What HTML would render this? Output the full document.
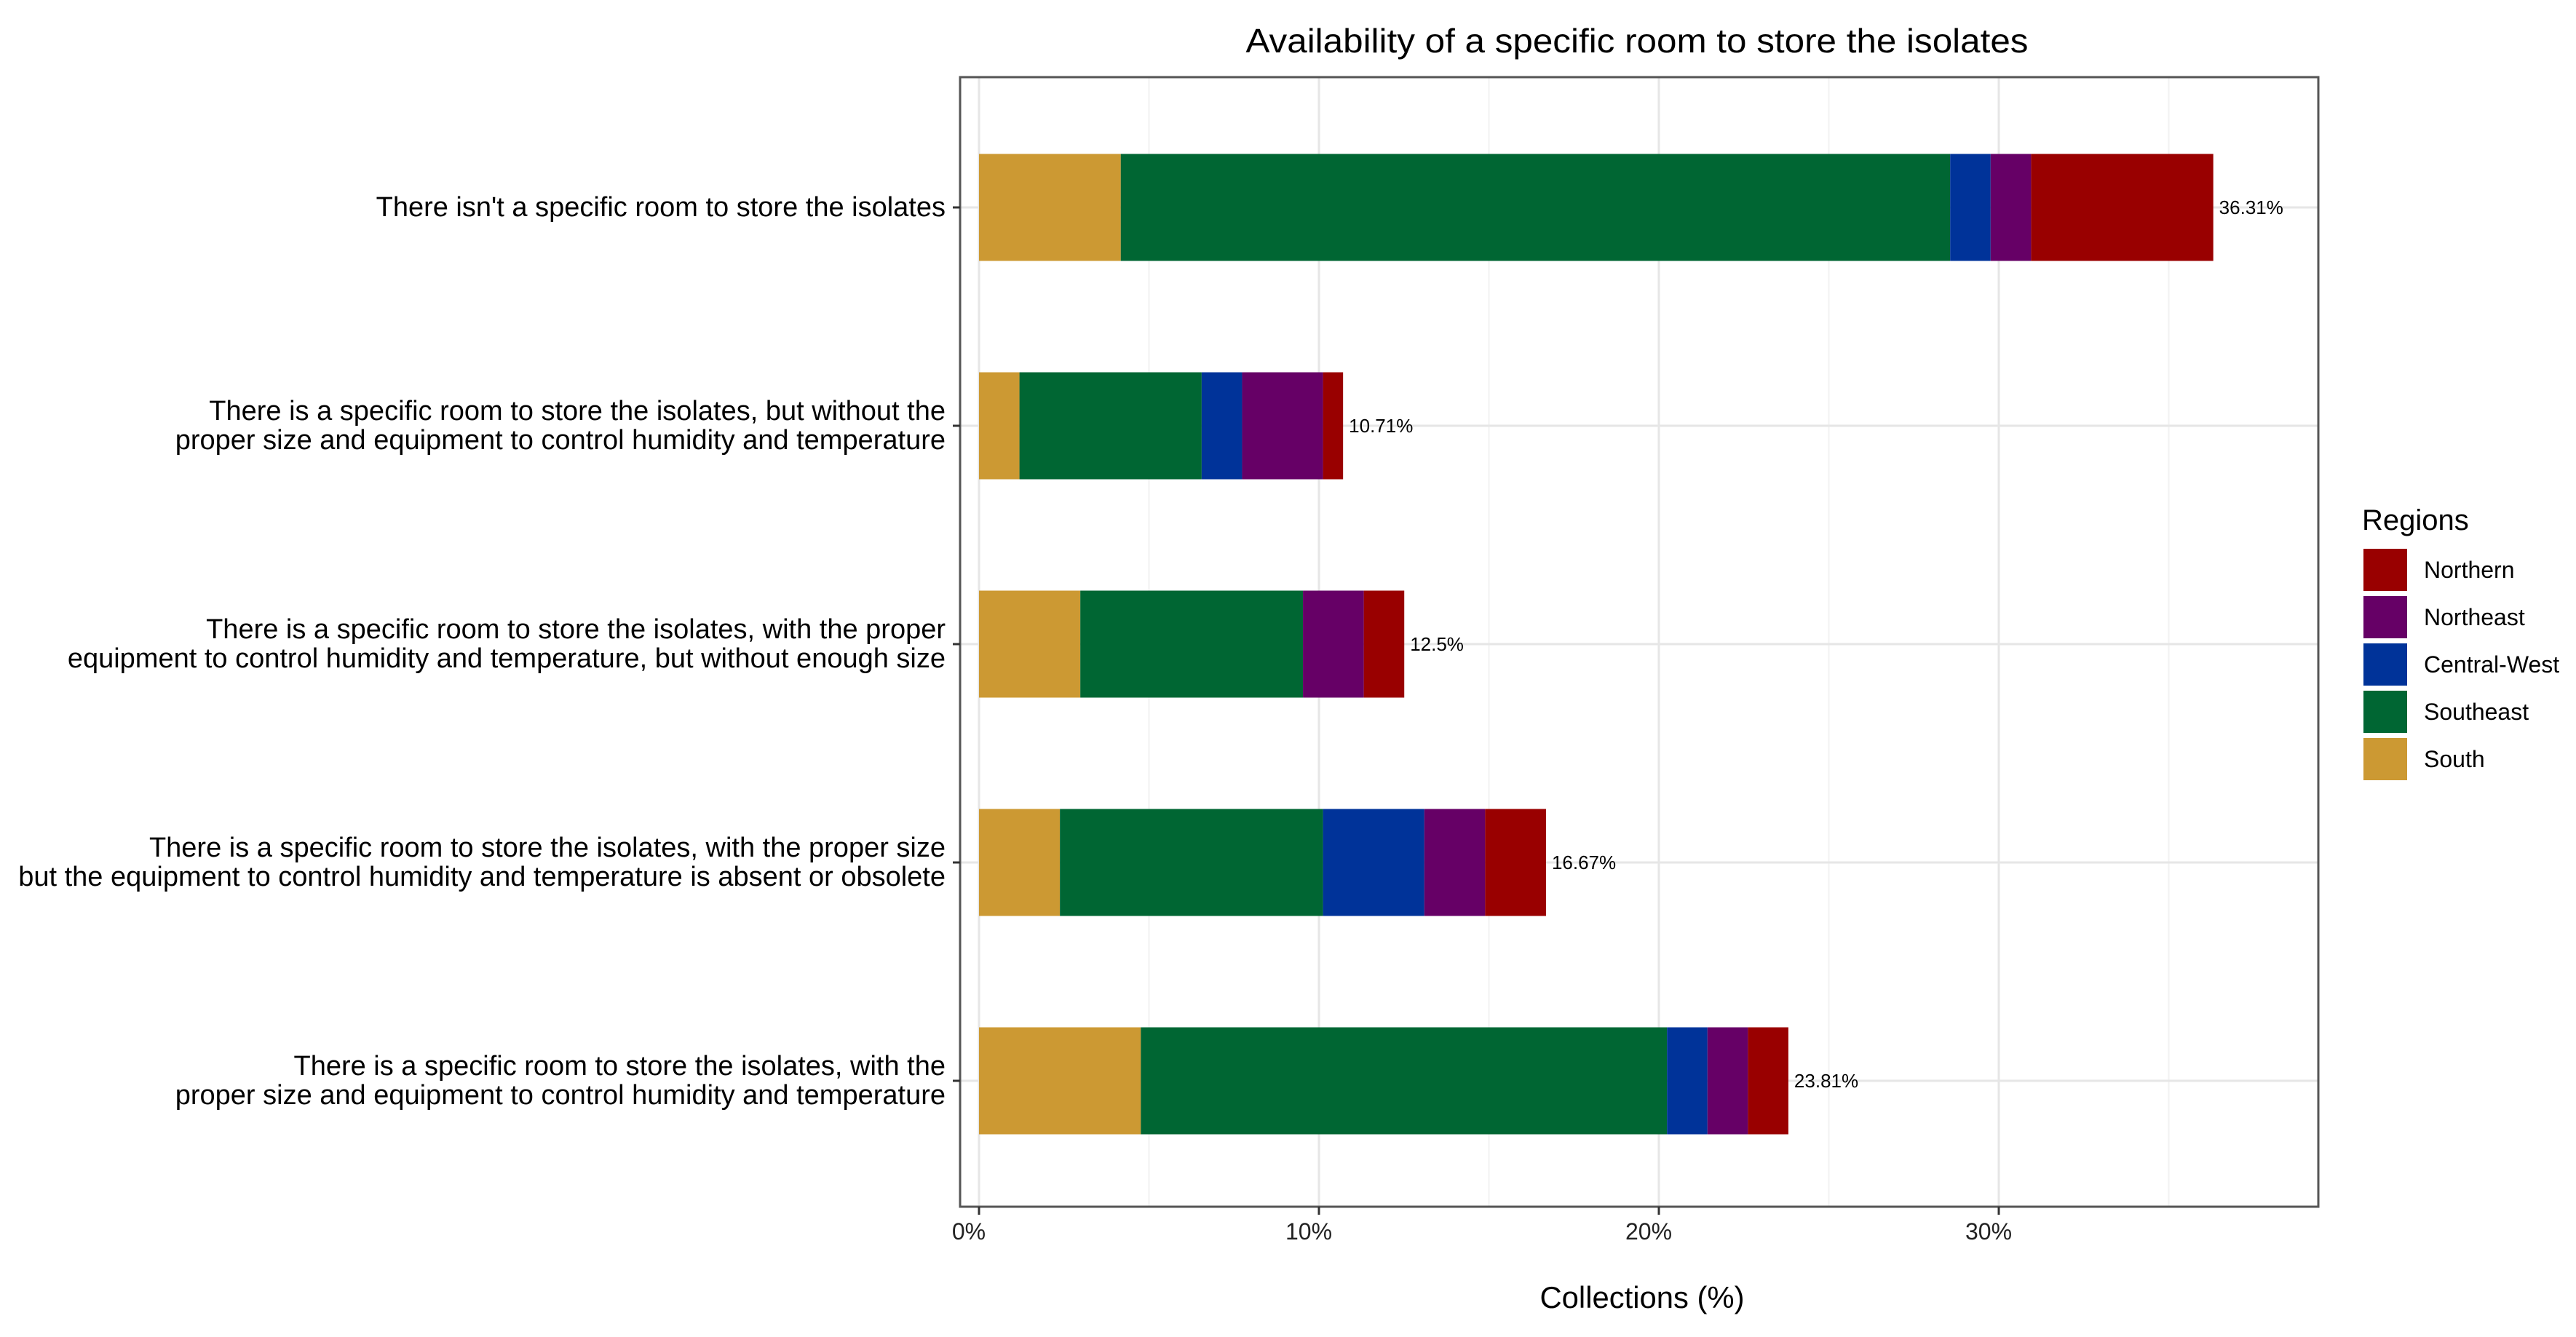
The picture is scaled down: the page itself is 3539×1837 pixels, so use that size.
<!DOCTYPE html>
<html><head><meta charset="utf-8"><style>
html,body{margin:0;padding:0;background:#fff;}
svg{display:block;font-family:"Liberation Sans",Arial,sans-serif;}
</style></head><body>
<svg id="chart" width="3539" height="1837" viewBox="0 0 3539 1837" xmlns="http://www.w3.org/2000/svg">
<rect width="3539" height="1837" fill="#fff"/>
<text x="2249" y="72" font-size="46" text-anchor="middle" textLength="1075" lengthAdjust="spacingAndGlyphs" fill="#000">Availability of a specific room to store the isolates</text>
<g id="grid"></g>
<g id="bars"></g>
<rect x="1319" y="106" width="1866" height="1552" fill="none" stroke="#555" stroke-width="3"/>
<g id="axes"></g>
<text x="2256" y="1797" font-size="42" text-anchor="middle" textLength="281" lengthAdjust="spacingAndGlyphs" fill="#000">Collections (%)</text>
<g id="legend">
<text x="3245" y="728" font-size="40" fill="#000">Regions</text>
</g>
</svg>
<script>
const categories = [
 ["There isn't a specific room to store the isolates"],
 ["There is a specific room to store the isolates, but without the","proper size and equipment to control humidity and temperature"],
 ["There is a specific room to store the isolates, with the proper","equipment to control humidity and temperature, but without enough size"],
 ["There is a specific room to store the isolates, with the proper size","but the equipment to control humidity and temperature is absent or obsolete"],
 ["There is a specific room to store the isolates, with the","proper size and equipment to control humidity and temperature"]
];
const regions = ["South","Southeast","Central-West","Northeast","Northern"];
const south = [4.17, 1.19, 2.98, 2.38, 4.76];
const southeast = [24.40, 5.36, 6.55, 7.74, 15.48];
const centralWest = [1.19, 1.19, 0, 2.98, 1.19];
const northeast = [1.19, 2.38, 1.79, 1.79, 1.19];
const northern = [5.36, 0.59, 1.19, 1.79, 1.19];
const totalLabels = ["36.31%","10.71%","12.5%","16.67%","23.81%"];
const xTicks = [0,10,20,30];
const xTickLabels = ["0%","10%","20%","30%"];
const xMinor = [5,15,25,35];

const series=[south,southeast,centralWest,northeast,northern];
const colors=["#CC9933","#006633","#003399","#660066","#990000"];
const NS="http://www.w3.org/2000/svg";
const x0=1345, pxPer=46.7;
const xs=v=>x0+v*pxPer;
const yc=i=>285+i*300;
const barH=147;
function mk(tag,attrs,parent,text){const e=document.createElementNS(NS,tag);for(const k in attrs)e.setAttribute(k,attrs[k]);if(text!==undefined)e.textContent=text;parent.appendChild(e);return e;}
const grid=document.getElementById('grid'),bars=document.getElementById('bars'),axes=document.getElementById('axes'),legend=document.getElementById('legend');
xMinor.forEach(t=>{const l=mk('line',{x1:xs(t),x2:xs(t),y1:106,y2:1658,stroke:'#f2f2f2','stroke-width':2},grid);

});
xTicks.forEach(t=>{const l=mk('line',{x1:xs(t),x2:xs(t),y1:106,y2:1658,stroke:'#e6e6e6','stroke-width':3},grid);

});
categories.forEach((c,i)=>{const l=mk('line',{x1:1319,x2:3185,y1:yc(i),y2:yc(i),stroke:'#e6e6e6','stroke-width':3},grid);

});
categories.forEach((lines,i)=>{
 let cum=0;
 series.forEach((s,k)=>{
  const v=s[i];
  if(v>0){const r=mk('rect',{x:xs(cum),y:yc(i)-barH/2,width:v*pxPer,height:barH,fill:colors[k]},bars);
  
  }
  cum+=v;
 });
 const t=mk('text',{x:xs(cum)+8,y:yc(i)+9,'font-size':26,fill:'#000'},bars,totalLabels[i]);
 
 
 const tick=mk('line',{x1:1309,x2:1319,y1:yc(i),y2:yc(i),stroke:'#333','stroke-width':3},axes);
 
 
 const base = lines.length===1 ? [yc(i)+12] : [yc(i)-8, yc(i)+32];
 lines.forEach((ln,j)=>{
  const lt=mk('text',{x:1299,y:base[j],'font-size':38,'text-anchor':'end',fill:'#000'},axes,ln);
  
  
 });
});
xTicks.forEach((t,i)=>{
 const tk=mk('line',{x1:xs(t),x2:xs(t),y1:1658,y2:1669,stroke:'#333','stroke-width':3},axes);
 
 
 const tl=mk('text',{x:xs(t)-14,y:1703,'font-size':32,'text-anchor':'middle',fill:'#222'},axes,xTickLabels[i]);
 
 
});
const legOrder=[4,3,2,1,0];
legOrder.forEach((k,j)=>{
 const cy=783+j*65;
 const r=mk('rect',{x:3247,y:cy-29,width:60,height:58,fill:colors[k]},legend);
 
 
 const t=mk('text',{x:3330,y:cy+11,'font-size':32,fill:'#000'},legend,regions[k]);
 
 
});
</script>
</body></html>
